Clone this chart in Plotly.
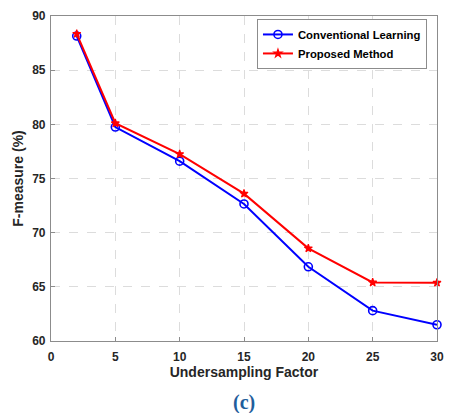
import plotly.graph_objects as go

x_vals = [2, 5, 10, 15, 20, 25, 30]
conventional = [88.15, 79.75, 76.6, 72.65, 66.85, 62.8, 61.5]
proposed = [88.35, 80.1, 77.25, 73.6, 68.55, 65.4, 65.38]
x_ticks = [0, 5, 10, 15, 20, 25, 30]
y_ticks = [60, 65, 70, 75, 80, 85, 90]

font_main = "Liberation Sans, Arial, sans-serif"

fig = go.Figure()
fig.add_trace(go.Scatter(
    x=x_vals, y=conventional, mode="lines+markers", name="<b>Conventional Learning</b>",
    line=dict(color="#0000FF", width=2),
    marker=dict(symbol="circle-open", size=8, color="#0000FF", line=dict(width=1.6)),
    cliponaxis=False,
))
fig.add_trace(go.Scatter(
    x=x_vals, y=proposed, mode="lines+markers", name="<b>Proposed Method</b>",
    line=dict(color="#FF0000", width=2),
    marker=dict(symbol="star", size=6, color="#FF0000", line=dict(width=1.2, color="#FF0000")),
    cliponaxis=False,
))

axis_common = dict(
    showline=True, linecolor="#8C8C8C", linewidth=1.2, mirror=True,
    ticks="inside", ticklen=4, tickcolor="#8C8C8C",
    showgrid=True, gridcolor="#DCDCDC", griddash="dash", gridwidth=1,
    zeroline=False, automargin=False,
    tickfont=dict(family=font_main, size=12, color="#262626"),
)

fig.update_layout(
    width=449, height=413,
    margin=dict(l=51, r=12, t=16, b=72),
    paper_bgcolor="white", plot_bgcolor="white",
    font=dict(family=font_main, color="#262626"),
    xaxis=dict(range=[0, 30], tickvals=x_ticks, ticktext=[f"<b>{t}</b>" for t in x_ticks],
               ticklabelstandoff=4,
               title=dict(text="<b>Undersampling Factor</b>", font=dict(size=14, family=font_main), standoff=4),
               **axis_common),
    yaxis=dict(range=[60, 90], tickvals=y_ticks, ticktext=[f"<b>{t}</b>" for t in y_ticks],
               ticklabelstandoff=2,
               title=dict(text="<b>F-measure (%)</b>", font=dict(size=14, family=font_main), standoff=5),
               **axis_common),
    legend=dict(x=0.974, y=0.914, xanchor="right", yanchor="middle",
                bgcolor="white", bordercolor="#8C8C8C", borderwidth=1,
                font=dict(family=font_main, size=11.3, color="#000000"),
                tracegroupgap=0, itemwidth=30),
    showlegend=True,
)

fig.add_annotation(
    text="<b>(c)</b>", xref="paper", yref="paper", x=0.5, y=-0.188,
    xanchor="center", yanchor="middle", showarrow=False,
    font=dict(family="Liberation Serif, Times New Roman, serif", size=20, color="#1F5E9C"),
)

fig.write_html("out.html")
